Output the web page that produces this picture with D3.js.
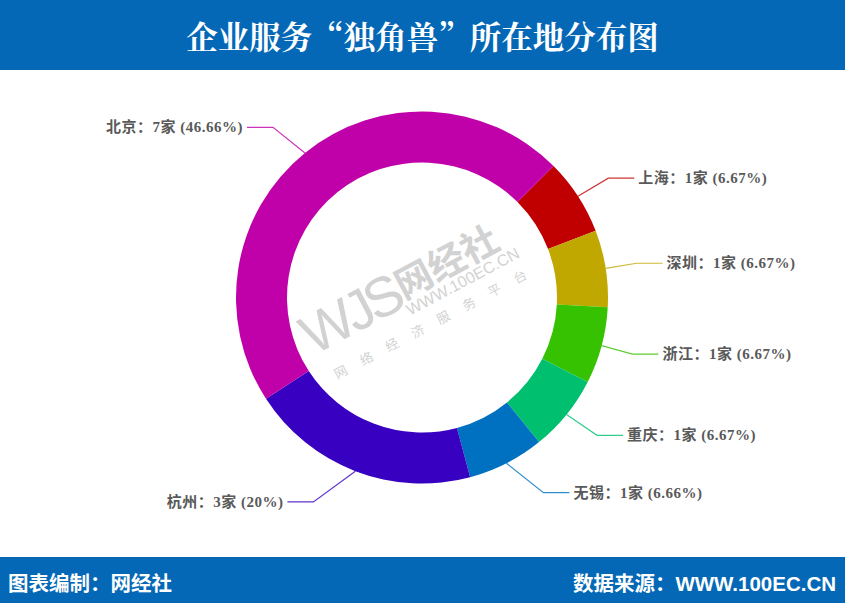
<!DOCTYPE html>
<html><head><meta charset="utf-8">
<script src="https://cdn.jsdelivr.net/npm/d3@7"></script>
<style>
html,body{margin:0;padding:0;background:#fff;}
svg{display:block;}
</style></head>
<body>
<svg id="chart" width="845" height="603"></svg>
<script>
const title = "企业服务“独角兽”所在地分布图";
const footerLeft = "图表编制：网经社";
const footerRight = "数据来源：WWW.100EC.CN";
const cities = ["上海", "深圳", "浙江", "重庆", "无锡", "杭州", "北京"];
const counts = [1, 1, 1, 1, 1, 3, 7];
const percents = ["6.67%", "6.67%", "6.67%", "6.67%", "6.66%", "20%", "46.66%"];
const colors = ["#c00000", "#c0a800", "#36c200", "#00c070", "#0070c0", "#3800c0", "#c000a8"];

const W = 845, H = 603;
const svg = d3.select("#chart");
const blue = "#0468b6";

// header & footer
svg.append("rect").attr("x", 0).attr("y", 0).attr("width", W).attr("height", 70).attr("fill", blue);
svg.append("text").attr("x", W / 2).attr("y", 35)
  .attr("text-anchor", "middle").attr("dominant-baseline", "central")
  .attr("fill", "#fff").attr("font-size", 31.5).attr("font-weight", "bold")
  .attr("font-family", "'Noto Serif CJK SC','Noto Sans CJK SC',serif")
  .text(title);
svg.append("rect").attr("x", 0).attr("y", 557).attr("width", W).attr("height", H - 557).attr("fill", blue);
svg.append("text").attr("x", 8).attr("y", 583)
  .attr("dominant-baseline", "central").attr("fill", "#fff").attr("font-size", 20.5).attr("font-weight", "bold")
  .attr("font-family", "'Liberation Sans','Noto Sans CJK SC',sans-serif")
  .text(footerLeft);
svg.append("text").attr("x", 836).attr("y", 583).attr("text-anchor", "end")
  .attr("dominant-baseline", "central").attr("fill", "#fff").attr("font-size", 20.5).attr("font-weight", "bold")
  .attr("font-family", "'Liberation Sans','Noto Sans CJK SC',sans-serif")
  .text(footerRight);

// donut
const cx = 422, cy = 297.5, rOuter = 186, rInner = 135;
const data = cities.map((c, i) => ({city: c, count: counts[i], pct: percents[i], color: colors[i]}));
const pie = d3.pie().sort(null).value(d => d.count)
  .startAngle(Math.PI / 4).endAngle(Math.PI / 4 + 2 * Math.PI);
const arcs = pie(data);
const arc = d3.arc().innerRadius(rInner).outerRadius(rOuter);

const g = svg.append("g").attr("transform", `translate(${cx},${cy})`);

// watermark
const wm = g.append("g").attr("transform", "translate(-7,2) rotate(-28)").attr("fill", "#d2d2d2");
wm.append("text").attr("x", -116).attr("y", 2).attr("font-size", 56)
  .attr("font-family", "'Liberation Sans',sans-serif").attr("letter-spacing", -5).text("WJS");
wm.append("text").attr("x", -10).attr("y", -5).attr("font-size", 37).attr("font-weight", "bold")
  .attr("font-family", "'Noto Sans CJK SC',sans-serif").text("网经社");
wm.append("text").attr("x", -12).attr("y", 12).attr("font-size", 16)
  .attr("font-family", "'Liberation Sans',sans-serif").text("WWW.100EC.CN");
wm.append("text").attr("x", -106).attr("y", 34).attr("font-size", 13).attr("letter-spacing", 16)
  .attr("font-family", "'Noto Sans CJK SC',sans-serif").text("网络经济服务平台");

g.selectAll("path.slice").data(arcs).join("path").attr("class", "slice")
  .attr("d", arc).attr("fill", d => d.data.color);

// labels (echarts-like layout)
const R1 = rOuter + 33, RT = 247;
arcs.forEach(d => {
  const a = (d.startAngle + d.endAngle) / 2;
  const sx = Math.sin(a), sy = -Math.cos(a);
  const dir = sx < 0 ? -1 : 1;
  const p1 = [rOuter * sx, rOuter * sy];
  const ly = R1 * sy;
  const tx = dir * Math.sqrt(RT * RT - ly * ly);
  const lineEnd = tx - dir * 4;
  const elbow = lineEnd - dir * 26;
  g.append("polyline")
    .attr("points", [p1, [elbow, ly], [lineEnd, ly]].map(p => p.join(",")).join(" "))
    .attr("fill", "none").attr("stroke", d.data.color).attr("stroke-width", 1.2).attr("stroke-opacity", 0.8);
  g.append("text").attr("x", tx).attr("y", ly)
    .attr("text-anchor", dir < 0 ? "end" : "start").attr("dominant-baseline", "central")
    .attr("fill", "#595959").attr("font-size", 15).attr("font-weight", "bold").attr("letter-spacing", 0.5)
    .attr("font-family", "'Liberation Serif','Noto Sans CJK SC',serif")
    .text(`${d.data.city}：${d.data.count}家 (${d.data.pct})`);
});
</script>
</body></html>
